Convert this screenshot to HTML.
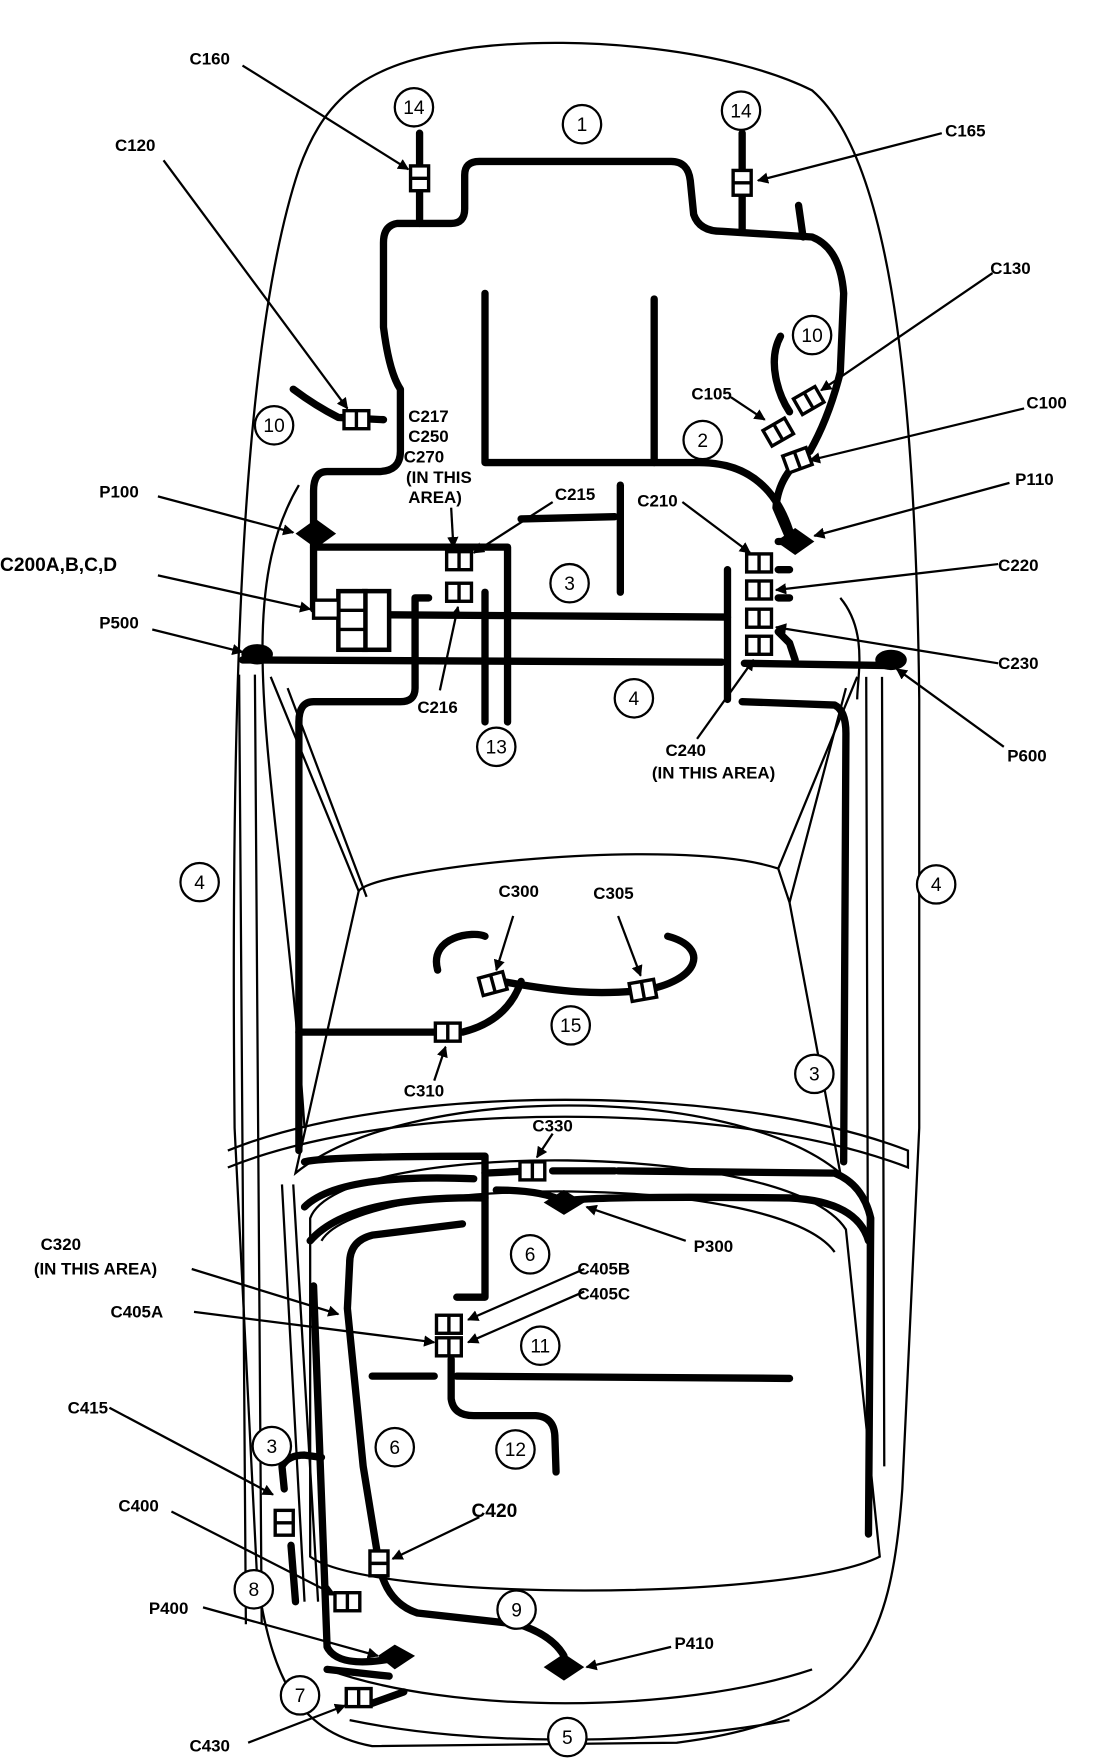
<!DOCTYPE html>
<html><head><meta charset="utf-8"><style>
html,body{margin:0;padding:0;background:#fff;width:1120px;height:1762px;overflow:hidden}
svg{display:block}
text{font-family:"Liberation Sans",sans-serif;font-weight:bold;font-size:15px;fill:#000}
.n{font-weight:normal;font-size:17px;text-anchor:middle}
</style></head><body>
<svg width="1120" height="1762" viewBox="0 0 993 1562" xmlns="http://www.w3.org/2000/svg">
<defs>
<marker id="a" markerWidth="10" markerHeight="10" refX="9" refY="5" orient="auto" markerUnits="userSpaceOnUse"><path d="M0,0 L10,5 L0,10 Z" fill="#000"/></marker>
<g id="c"><rect x="-11" y="-8" width="22" height="16" fill="#fff" stroke="#000" stroke-width="3"/><line x1="0" y1="-8" x2="0" y2="8" stroke="#000" stroke-width="3"/></g>
<g id="cv"><rect x="-8" y="-11" width="16" height="22" fill="#fff" stroke="#000" stroke-width="3"/><line x1="-8" y1="0" x2="8" y2="0" stroke="#000" stroke-width="3"/></g>
</defs>
<g fill="none" stroke="#000" stroke-width="2">
<path d="M208,1000 C204,600 215,300 265,150 C290,80 330,55 420,42 C520,30 650,45 720,80 C790,140 812,350 815,620 L815,1000 L800,1320 C790,1460 760,1525 600,1545 L330,1548 C260,1535 240,1480 228,1400 Z"/>
<path d="M318,790 C330,770 600,740 690,770 L700,800 L745,1040 C650,960 360,960 262,1040 L318,790 Z"/>
<path d="M240,600 L318,790 M760,600 L690,770"/>
<path d="M255,610 L325,795 M750,610 L700,800"/>
<path d="M202,1020 C350,960 650,960 805,1020 L805,1035 C650,975 350,975 202,1035"/>
<path d="M275,1080 C300,1010 700,1010 750,1090 L780,1380 C700,1420 330,1420 275,1380 Z"/>
<path d="M285,1100 C320,1040 690,1040 740,1110"/>
<path d="M250,1050 L270,1420 M260,1050 L282,1420"/>
<path d="M290,1480 C400,1520 600,1520 720,1480"/>
<path d="M310,1525 C420,1548 580,1548 700,1525"/>
<path d="M212,598 L218,1440 M226,598 L232,1440"/>
<path d="M768,600 L770,1300 M782,600 L784,1300"/>
<path d="M265,430 C200,540 250,700 270,1000"/>
<path d="M745,530 C770,560 760,600 760,620"/>
</g>
<g fill="none" stroke="#000" stroke-width="6.5" stroke-linejoin="round" stroke-linecap="round">
<path d="M372,118 L372,198 L352,198 Q340,200 340,215 L340,290 Q345,330 355,345 L355,400 Q355,418 335,418 L290,418 Q278,418 278,435 L278,540"/>
<path d="M372,198 L400,198 Q412,198 412,185 L412,155 Q412,143 425,143 L595,143 Q610,143 612,160 L615,190 Q620,205 640,205 L720,210 Q745,220 748,260 L745,330 Q735,370 718,400 Q690,420 688,450 L700,478"/>
<path d="M658,118 L658,205"/>
<path d="M708,182 L712,210"/>
<path d="M692,298 C680,320 690,350 700,365"/>
<path d="M260,345 Q280,360 300,370 L340,372"/>
<path d="M430,260 L430,410 L620,410 Q680,410 700,470"/>
<path d="M580,265 L580,410"/>
<path d="M550,430 L550,525"/>
<path d="M462,460 L545,458"/>
<path d="M278,485 L450,485 L450,640"/>
<path d="M430,525 L430,640"/>
<path d="M345,545 L645,547"/>
<path d="M380,530 L368,530 L368,610 Q368,622 355,622 L278,622 Q265,622 265,640 L265,1020"/>
<path d="M215,585 L640,587 M660,588 L790,590"/>
<path d="M645,505 L645,620"/>
<path d="M658,622 L740,625 Q750,630 750,650 L748,1030"/>
<path d="M690,480 L700,480 M690,505 L700,505 M690,530 L700,530 M690,560 L700,570 L705,585"/>
<path d="M388,860 C380,830 420,825 430,830 M445,870 C500,880 530,882 570,878 C620,870 630,840 592,830"/>
<path d="M265,915 L385,915 M410,915 Q450,905 462,870"/>
<path d="M270,1030 Q290,1025 430,1025 L430,1150 L405,1150"/>
<path d="M430,1040 L470,1038 M490,1038 L545,1038"/>
<path d="M270,1070 Q300,1040 420,1045"/>
<path d="M275,1100 Q310,1060 430,1062"/>
<path d="M440,1055 Q480,1055 500,1065 Q520,1060 700,1062 Q760,1065 770,1100"/>
<path d="M548,1038 L740,1040 Q765,1050 772,1080 L770,1360"/>
<path d="M410,1085 L330,1095 Q310,1100 310,1120 L308,1160 L322,1300 L335,1380 Q340,1420 370,1430 L460,1440 Q490,1450 500,1468"/>
<path d="M400,1205 L400,1240 Q402,1255 420,1255 L475,1255 Q492,1256 492,1275 L493,1305"/>
<path d="M405,1220 L700,1222 M330,1220 L385,1220"/>
<path d="M278,1140 L290,1460 Q300,1480 350,1470"/>
<path d="M252,1320 L250,1300 Q255,1290 270,1290 L285,1292"/>
<path d="M258,1370 L262,1420"/>
<path d="M290,1480 L345,1486 M330,1510 L358,1500"/>
</g>
<g fill="#000">
<path d="M262,473 L280,460 L298,473 L280,486 Z"/>
<path d="M688,480 L705,468 L722,480 L705,492 Z"/>
<ellipse cx="228" cy="580" rx="14" ry="9"/>
<ellipse cx="790" cy="585" rx="14" ry="9"/>
<path d="M482,1066 L500,1055 L518,1066 L500,1077 Z"/>
<path d="M335,1468 L350,1458 L368,1468 L350,1480 Z"/>
<path d="M482,1478 L500,1466 L518,1478 L500,1490 Z"/>
</g>
<use href="#cv" x="372" y="158"/>
<use href="#cv" x="658" y="162"/>
<use href="#c" x="316" y="372"/>
<use href="#c" x="407" y="497"/>
<use href="#c" x="407" y="525"/>
<use href="#c" x="673" y="499"/>
<use href="#c" x="673" y="523"/>
<use href="#c" x="673" y="548"/>
<use href="#c" x="673" y="572"/>
<g transform="translate(690,383) rotate(-30)"><use href="#c"/></g>
<g transform="translate(717,355) rotate(-30)"><use href="#c"/></g>
<g transform="translate(707,408) rotate(-20)"><use href="#c"/></g>
<rect x="323" y="524" width="22" height="52" fill="#fff" stroke="#000" stroke-width="4"/>
<rect x="300" y="524" width="24" height="52" fill="#fff" stroke="#000" stroke-width="4"/>
<line x1="300" y1="541" x2="324" y2="541" stroke="#000" stroke-width="3"/><line x1="300" y1="558" x2="324" y2="558" stroke="#000" stroke-width="3"/>
<rect x="278" y="532" width="22" height="16" fill="#fff" stroke="#000" stroke-width="3"/>
<g transform="translate(437,872) rotate(-15)"><use href="#c"/></g>
<g transform="translate(570,878) rotate(-10)"><use href="#c"/></g>
<use href="#c" x="397" y="915"/>
<use href="#c" x="472" y="1038"/>
<use href="#c" x="398" y="1174"/>
<use href="#c" x="398" y="1194"/>
<use href="#cv" x="252" y="1350"/>
<use href="#cv" x="336" y="1386"/>
<use href="#c" x="308" y="1420"/>
<use href="#c" x="318" y="1505"/>
<g fill="#fff" stroke="#000" stroke-width="2">
<circle cx="367" cy="95" r="17"/><circle cx="516" cy="110" r="17"/><circle cx="657" cy="98" r="17"/>
<circle cx="720" cy="297" r="17"/><circle cx="243" cy="377" r="17"/><circle cx="623" cy="390" r="17"/>
<circle cx="505" cy="517" r="17"/><circle cx="562" cy="619" r="17"/><circle cx="440" cy="662" r="17"/>
<circle cx="177" cy="782" r="17"/><circle cx="830" cy="784" r="17"/><circle cx="506" cy="909" r="17"/>
<circle cx="722" cy="952" r="17"/><circle cx="470" cy="1112" r="17"/><circle cx="479" cy="1193" r="17"/>
<circle cx="350" cy="1283" r="17"/><circle cx="457" cy="1285" r="17"/><circle cx="241" cy="1282" r="17"/>
<circle cx="225" cy="1409" r="17"/><circle cx="458" cy="1427" r="17"/><circle cx="266" cy="1503" r="17"/>
<circle cx="503" cy="1540" r="17"/>
</g>
<g>
<text class="n" x="367" y="101">14</text><text class="n" x="516" y="116">1</text><text class="n" x="657" y="104">14</text>
<text class="n" x="720" y="303">10</text><text class="n" x="243" y="383">10</text><text class="n" x="623" y="396">2</text>
<text class="n" x="505" y="523">3</text><text class="n" x="562" y="625">4</text><text class="n" x="440" y="668">13</text>
<text class="n" x="177" y="788">4</text><text class="n" x="830" y="790">4</text><text class="n" x="506" y="915">15</text>
<text class="n" x="722" y="958">3</text><text class="n" x="470" y="1118">6</text><text class="n" x="479" y="1199">11</text>
<text class="n" x="350" y="1289">6</text><text class="n" x="457" y="1291">12</text><text class="n" x="241" y="1288">3</text>
<text class="n" x="225" y="1415">8</text><text class="n" x="458" y="1433">9</text><text class="n" x="266" y="1509">7</text>
<text class="n" x="503" y="1546">5</text>
</g>
<g stroke="#000" stroke-width="2" fill="none" marker-end="url(#a)">
<line x1="215" y1="58" x2="362" y2="150"/>
<line x1="145" y1="142" x2="308" y2="362"/>
<line x1="835" y1="118" x2="672" y2="160"/>
<line x1="880" y1="242" x2="728" y2="346"/>
<line x1="648" y1="352" x2="678" y2="372"/>
<line x1="908" y1="362" x2="718" y2="408"/>
<line x1="140" y1="440" x2="260" y2="472"/>
<line x1="895" y1="428" x2="722" y2="475"/>
<line x1="140" y1="510" x2="275" y2="540"/>
<line x1="135" y1="558" x2="215" y2="578"/>
<line x1="400" y1="450" x2="402" y2="485"/>
<line x1="490" y1="445" x2="420" y2="490"/>
<line x1="605" y1="445" x2="665" y2="490"/>
<line x1="885" y1="500" x2="688" y2="523"/>
<line x1="885" y1="588" x2="688" y2="556"/>
<line x1="890" y1="662" x2="795" y2="593"/>
<line x1="390" y1="612" x2="406" y2="538"/>
<line x1="618" y1="655" x2="668" y2="585"/>
<line x1="455" y1="812" x2="440" y2="860"/>
<line x1="548" y1="812" x2="568" y2="865"/>
<line x1="385" y1="958" x2="395" y2="928"/>
<line x1="490" y1="1005" x2="476" y2="1026"/>
<line x1="608" y1="1100" x2="520" y2="1070"/>
<line x1="170" y1="1125" x2="300" y2="1165"/>
<line x1="518" y1="1125" x2="415" y2="1170"/>
<line x1="518" y1="1145" x2="415" y2="1190"/>
<line x1="172" y1="1163" x2="385" y2="1190"/>
<line x1="97" y1="1248" x2="242" y2="1325"/>
<line x1="152" y1="1340" x2="297" y2="1414"/>
<line x1="425" y1="1345" x2="348" y2="1382"/>
<line x1="180" y1="1425" x2="335" y2="1468"/>
<line x1="595" y1="1460" x2="520" y2="1478"/>
<line x1="220" y1="1545" x2="306" y2="1512"/>
</g>
<text x="168" y="57">C160</text>
<text x="102" y="134">C120</text>
<text x="838" y="121">C165</text>
<text x="878" y="243">C130</text>
<text x="613" y="354">C105</text>
<text x="910" y="362">C100</text>
<text x="362" y="374">C217</text>
<text x="362" y="392">C250</text>
<text x="358" y="410">C270</text>
<text x="360" y="428">(IN THIS</text>
<text x="362" y="446">AREA)</text>
<text x="88" y="441">P100</text>
<text x="900" y="430">P110</text>
<text x="492" y="443">C215</text>
<text x="565" y="449">C210</text>
<text x="0" y="506" style="font-size:17px">C200A,B,C,D</text>
<text x="885" y="506">C220</text>
<text x="88" y="557">P500</text>
<text x="885" y="593">C230</text>
<text x="370" y="632">C216</text>
<text x="590" y="670">C240</text>
<text x="578" y="690">(IN THIS AREA)</text>
<text x="893" y="675">P600</text>
<text x="442" y="795">C300</text>
<text x="526" y="797">C305</text>
<text x="358" y="972">C310</text>
<text x="472" y="1003">C330</text>
<text x="615" y="1110">P300</text>
<text x="36" y="1108">C320</text>
<text x="30" y="1130">(IN THIS AREA)</text>
<text x="512" y="1130">C405B</text>
<text x="512" y="1152">C405C</text>
<text x="98" y="1168">C405A</text>
<text x="60" y="1253">C415</text>
<text x="418" y="1345" style="font-size:17px">C420</text>
<text x="105" y="1340">C400</text>
<text x="132" y="1431">P400</text>
<text x="598" y="1462">P410</text>
<text x="168" y="1553">C430</text>
</svg>
</body></html>
